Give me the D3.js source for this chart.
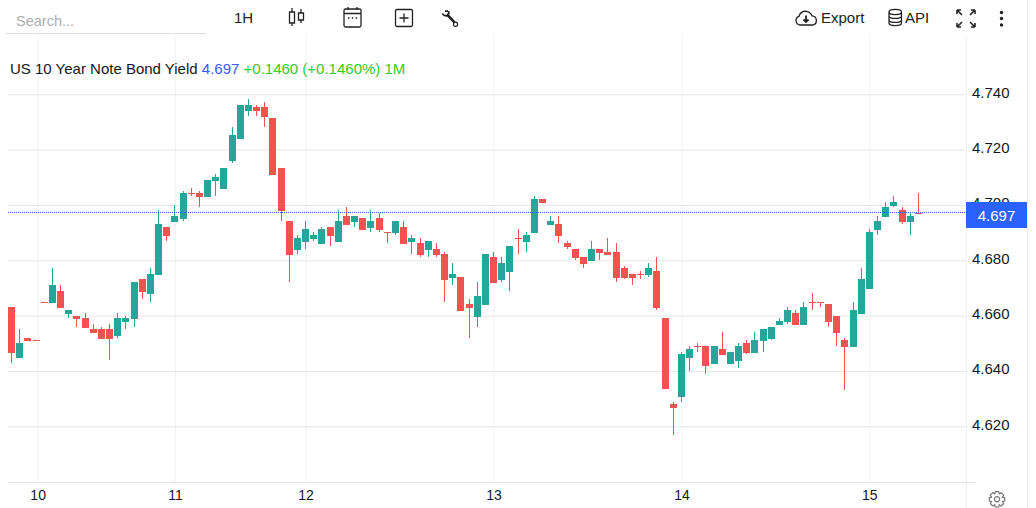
<!DOCTYPE html>
<html><head><meta charset="utf-8">
<script src="https://cdn.jsdelivr.net/npm/d3@7"></script>
<style>
html,body{margin:0;padding:0;background:#fff;overflow:hidden}
svg{display:block;font-family:"Liberation Sans",Arial,sans-serif}
</style></head><body><svg id="c" width="1036" height="508"></svg>
<script>
const opens=[4.6631,4.6448,4.6519,4.6511,4.6648,4.6647,4.6689,4.6607,4.6599,4.6592,4.6552,4.6552,4.6552,4.6527,4.6578,4.6589,4.6733,4.6679,4.6748,4.6920,4.6940,4.6950,4.7043,4.7043,4.7030,4.7087,4.7059,4.7160,4.7240,4.7340,4.7354,4.7354,4.7314,4.7134,4.6942,4.6838,4.6867,4.6877,4.6860,4.6920,4.6867,4.6960,4.6938,4.6953,4.6917,4.6953,4.6902,4.6899,4.6920,4.6867,4.6863,4.6838,4.6841,4.6823,4.6737,4.6740,4.6642,4.6596,4.6640,4.6812,4.6730,4.6759,4.6881,4.6867,4.6900,4.7022,4.6929,4.6931,4.6863,4.6841,4.6812,4.6797,4.6841,4.6830,4.6830,4.6772,4.6751,4.6751,4.6747,4.6761,4.6592,4.6281,4.6306,4.6447,4.6490,4.6490,4.6425,4.6479,4.6425,4.6436,4.6501,4.6465,4.6508,4.6516,4.6566,4.6577,4.6610,4.6566,4.6648,4.6648,4.6642,4.6599,4.6512,4.6487,4.6606,4.6696,4.6910,4.6957,4.6996,4.6982,4.6938,4.6971];
const highs=[4.6631,4.6552,4.6519,4.6511,4.6648,4.6772,4.6711,4.6620,4.6599,4.6610,4.6570,4.6559,4.6570,4.6610,4.6599,4.6722,4.6733,4.6772,4.6982,4.6920,4.7000,4.7051,4.7061,4.7051,4.7090,4.7112,4.7134,4.7282,4.7361,4.7383,4.7361,4.7372,4.7314,4.7134,4.6942,4.6892,4.6942,4.6902,4.6920,4.6920,4.6982,4.6993,4.6960,4.6953,4.6982,4.6971,4.6902,4.6942,4.6942,4.6892,4.6881,4.6870,4.6863,4.6830,4.6790,4.6740,4.6660,4.6722,4.6823,4.6830,4.6812,4.6852,4.6913,4.6902,4.7032,4.7022,4.6960,4.6960,4.6870,4.6841,4.6812,4.6870,4.6841,4.6881,4.6863,4.6779,4.6751,4.6761,4.6790,4.6812,4.6592,4.6288,4.6469,4.6490,4.6501,4.6490,4.6490,4.6541,4.6469,4.6501,4.6512,4.6541,4.6552,4.6559,4.6592,4.6631,4.6620,4.6649,4.6682,4.6648,4.6642,4.6599,4.6519,4.6649,4.6772,4.6913,4.6960,4.7011,4.7032,4.6993,4.6971,4.7043];
const lows=[4.6430,4.6448,4.6509,4.6508,4.6646,4.6647,4.6629,4.6593,4.6560,4.6556,4.6538,4.6517,4.6441,4.6520,4.6553,4.6560,4.6661,4.6650,4.6748,4.6871,4.6940,4.6943,4.7032,4.6994,4.7030,4.7032,4.7059,4.7153,4.7240,4.7322,4.7322,4.7282,4.7109,4.6943,4.6722,4.6824,4.6842,4.6870,4.6860,4.6853,4.6867,4.6929,4.6920,4.6911,4.6902,4.6902,4.6864,4.6893,4.6860,4.6824,4.6813,4.6813,4.6813,4.6649,4.6711,4.6618,4.6520,4.6560,4.6640,4.6719,4.6723,4.6690,4.6824,4.6831,4.6900,4.7008,4.6929,4.6864,4.6842,4.6802,4.6773,4.6797,4.6801,4.6819,4.6722,4.6733,4.6711,4.6733,4.6740,4.6620,4.6335,4.6169,4.6288,4.6400,4.6469,4.6389,4.6425,4.6458,4.6425,4.6411,4.6461,4.6465,4.6469,4.6512,4.6566,4.6570,4.6566,4.6566,4.6620,4.6631,4.6559,4.6490,4.6331,4.6487,4.6606,4.6696,4.6892,4.6957,4.6993,4.6931,4.6892,4.6968];
const closes=[4.6466,4.6501,4.6509,4.6508,4.6646,4.6711,4.6629,4.6620,4.6589,4.6556,4.6538,4.6517,4.6517,4.6592,4.6592,4.6722,4.6687,4.6751,4.6931,4.6889,4.6960,4.7043,4.7040,4.7030,4.7090,4.7101,4.7134,4.7253,4.7361,4.7361,4.7340,4.7318,4.7109,4.6979,4.6820,4.6881,4.6913,4.6892,4.6913,4.6889,4.6942,4.6929,4.6960,4.6911,4.6942,4.6911,4.6899,4.6942,4.6860,4.6881,4.6820,4.6870,4.6820,4.6730,4.6751,4.6618,4.6629,4.6671,4.6823,4.6719,4.6790,4.6852,4.6877,4.6892,4.7022,4.7008,4.6942,4.6889,4.6849,4.6809,4.6788,4.6841,4.6826,4.6819,4.6736,4.6736,4.6736,4.6747,4.6772,4.6628,4.6335,4.6266,4.6461,4.6479,4.6487,4.6418,4.6490,4.6458,4.6469,4.6490,4.6465,4.6512,4.6552,4.6559,4.6581,4.6620,4.6566,4.6631,4.6645,4.6646,4.6577,4.6537,4.6487,4.6620,4.6733,4.6902,4.6942,4.6993,4.7011,4.6938,4.6960,4.6968];
const priceTicks=[4.62,4.64,4.66,4.68,4.70,4.72,4.74];
const dayIndex=[3.2,20,36,59,82,105];
const dayLabels=["10","11","12","13","14","15"];
const lastPrice=4.697;
const titleParts=[["US 10 Year Note Bond Yield ","#131722"],["4.697 ","#3d5afe"],["+0.1460 (+0.1460%) 1M","#2ecc2e"]];
const UP="#26a69a",DOWN="#f35350";

const svg=d3.select("#c");
const x=d3.scaleLinear().domain([0,111]).range([11.5,918.37]);
const y=d3.scaleLinear().domain([4.62,4.74]).range([426.3,94.3]);
const PL=8,PR=966,PB=482.5,PT=37;

svg.append("line").attr("x1",1027.5).attr("x2",1027.5).attr("y1",0).attr("y2",508).attr("stroke","#eeeeee");
svg.append("line").attr("x1",PR+.5).attr("x2",PR+.5).attr("y1",PT).attr("y2",508).attr("stroke","#eeeeee");

const gx=svg.append("g").attr("transform",`translate(0,${PB})`)
 .call(d3.axisBottom(x).tickValues(dayIndex).tickFormat((d,i)=>dayLabels[i]).tickSize(0).tickPadding(8));
gx.select(".domain").remove();
gx.selectAll("text").attr("font-size",14).attr("fill","#131722").attr("font-family","Liberation Sans");
gx.selectAll(".tick").append("line").attr("y1",0).attr("y2",PT-PB).attr("stroke","#f0f2f5");

const gy=svg.append("g").attr("transform",`translate(${PR},0)`)
 .call(d3.axisRight(y).tickValues(priceTicks).tickFormat(d3.format(".3f")).tickSize(0).tickPadding(6));
gy.select(".domain").remove();
gy.selectAll("text").attr("font-size",15).attr("fill","#131722").attr("font-family","Liberation Sans").attr("dy","0.2em");
gy.selectAll(".tick").append("line").attr("x1",PL-PR).attr("x2",0).attr("stroke","#e6e6e6");

svg.append("line").attr("x1",PL).attr("x2",976).attr("y1",PB).attr("y2",PB).attr("stroke","#e3e3e3");

const idx=d3.range(closes.length);
const left=i=>Math.round(x(i)-3.5);
const col=i=>closes[i]>=opens[i]?UP:DOWN;
const g=svg.append("g").attr("shape-rendering","crispEdges");
g.selectAll(".w").data(idx).join("rect").attr("class","w")
 .attr("x",i=>left(i)+3).attr("width",1)
 .attr("y",i=>y(highs[i])).attr("height",i=>Math.max(0,y(lows[i])-y(highs[i])))
 .attr("fill",col);
g.selectAll(".b").data(idx).join("rect").attr("class","b")
 .attr("x",left).attr("width",7)
 .attr("y",i=>y(Math.max(opens[i],closes[i])))
 .attr("height",i=>Math.max(1,Math.abs(y(opens[i])-y(closes[i]))))
 .attr("fill",col);

const py=Math.round(y(lastPrice))-.5;
svg.append("line").attr("x1",PL).attr("x2",PR).attr("y1",py).attr("y2",py).attr("stroke","#2962ff").attr("stroke-dasharray","1 1");
svg.append("rect").attr("x",966).attr("y",py-10.5).attr("width",61).attr("height",26).attr("fill","#2962ff");
svg.append("text").attr("x",996.5).attr("y",py+8).attr("text-anchor","middle").attr("font-size",15).attr("fill","#fff").text(d3.format(".3f")(lastPrice));

const t=svg.append("text").attr("x",10).attr("y",74).attr("font-size",15).attr("xml:space","preserve").style("white-space","pre");
titleParts.forEach(p=>t.append("tspan").attr("fill",p[1]).text(p[0]));

svg.append("text").attr("x",16).attr("y",26).attr("font-size",14.5).attr("fill","#aeaeae").text("Search...");
svg.append("line").attr("x1",6).attr("x2",206).attr("y1",33.5).attr("y2",33.5).attr("stroke","#dddddd");
svg.append("text").attr("x",234).attr("y",23).attr("font-size",15).attr("fill","#222").text("1H");
svg.append("text").attr("x",821).attr("y",23).attr("font-size",15).attr("fill","#222").text("Export");
svg.append("text").attr("x",905).attr("y",23).attr("font-size",15).attr("fill","#222").text("API");

const ic=svg.append("g").attr("fill","none").attr("stroke","#222").attr("stroke-width",1.3);
ic.append("path").attr("d","M289.5 12h5v11h-5zM292 8v4M292 23v3M298.5 13h5v7h-5zM301 9v4M301 20v3");
ic.append("path").attr("d","M345.5 9h14a1.5 1.5 0 0 1 1.5 1.5v15a1.5 1.5 0 0 1-1.5 1.5h-14a1.5 1.5 0 0 1-1.5-1.5v-15a1.5 1.5 0 0 1 1.5-1.5zM344 13.5h17M348 7v3M357 7v3M348 18h1.5M351.8 18h1.5M355.6 18h1.5");
ic.append("rect").attr("x",395.5).attr("y",9.5).attr("width",17).attr("height",17).attr("rx",1.5);
ic.append("path").attr("d","M404 13.5v9M399.5 18h9");
// wrench
ic.append("path").attr("d","M447 14.5l7.5 7.8").attr("stroke-width",2.6);
ic.append("path").attr("d","M442.5 13.5a3.6 3.6 0 0 0 5 1.8a3.6 3.6 0 0 0 1-4.2M445 11.2l3 0").attr("stroke-width",1.8);
ic.append("circle").attr("cx",455.5).attr("cy",24.2).attr("r",2.1).attr("stroke-width",1.2);
ic.append("path").attr("d","M800 25a4.5 4.5 0 0 1-1-8.7c1-3.3 4-5.3 7.3-5 2.8.3 4.7 2 5.7 4.5a4.7 4.7 0 0 1 1 9.2z");
ic.append("path").attr("d","M806 15.5v6M803.5 19.5l2.5 2.5l2.5-2.5").attr("stroke-width",1.8);
ic.append("path").attr("d","M889 12c0-3.5 12.5-3.5 12.5 0s-12.5 3.5-12.5 0v11c0 3.5 12.5 3.5 12.5 0v-11M889 16c0 3.3 12.5 3.3 12.5 0M889 20c0 3.3 12.5 3.3 12.5 0");
ic.append("path").attr("stroke-width",1.6).attr("d","M957 10l5 5M957 10h4M957 10v4M975 10l-5 5M975 10h-4M975 10v4M957 27l5-5M957 27h4M957 27v-4M975 27l-5-5M975 27h-4M975 27v-4");
svg.append("g").attr("fill","#222").selectAll("circle").data([12.5,18.5,25]).join("circle").attr("cx",1001.5).attr("cy",d=>d).attr("r",1.7);
// gear
const gear=svg.append("g").attr("transform","translate(997,499.3)").attr("fill","none").attr("stroke","#777").attr("stroke-width",1.2);
const gearPts=[];
d3.range(8).forEach(k=>{const a=k*Math.PI/4-Math.PI/2;[[-.40,5.8],[-.22,7.9],[.22,7.9],[.40,5.8]].forEach(p=>gearPts.push([p[1]*Math.cos(a+p[0]),p[1]*Math.sin(a+p[0])]))});
gear.append("path").attr("d",d3.line()(gearPts)+"Z").attr("stroke-linejoin","round");
gear.append("circle").attr("r",2.6);
</script></body></html>
